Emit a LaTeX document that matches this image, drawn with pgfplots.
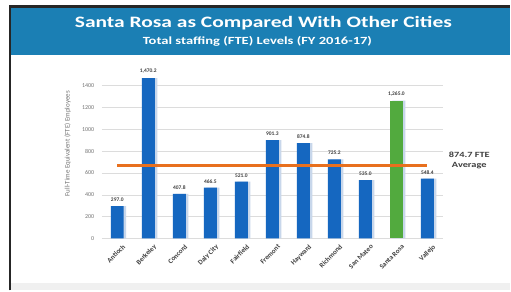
\documentclass[border=0pt]{standalone}
\usepackage{pgfplots}
\pgfplotsset{compat=1.18}
\usepackage{fontspec}
\setmainfont{Carlito}
\definecolor{band}{RGB}{27,127,180}
\definecolor{barblue}{RGB}{21,103,192}
\definecolor{bargreen}{RGB}{82,170,62}
\definecolor{avgorange}{RGB}{232,112,30}
\definecolor{shadowc}{RGB}{200,215,235}
\definecolor{txt}{RGB}{64,64,64}
\definecolor{gridc}{RGB}{220,220,220}
\begin{document}
\begin{tikzpicture}
\fill[white] (0bp,0bp) rectangle (511bp,291bp);
\fill[black!6] (11bp,0bp) rectangle (511bp,7bp);
\fill[band] (11bp,236bp) rectangle (511bp,283bp);
\draw[black!85, line width=2.5bp] (10.25bp,0bp) -- (10.25bp,284.25bp) -- (511bp,284.25bp);
\node[white, xscale=1.35, font=\bfseries\fontsize{16}{18}\selectfont] at (264bp,268bp) {Santa Rosa as Compared With Other Cities};
\node[white, xscale=1.33, font=\bfseries\fontsize{11}{12}\selectfont] at (258bp,250bp) {Total staffing (FTE) Levels (FY 2016-17)};
\begin{axis}[at={(102bp,52bp)}, anchor=south west, scale only axis,
  width=342bp, height=169.4bp,
  xmin=-0.5, xmax=10.5, ymin=0, ymax=1550,
  axis line style={draw=none}, major tick length=0pt,
  ytick={0,200,...,1400}, ymajorgrids, grid style={gridc, line width=0.6bp},
  xtick={0,...,10},
  xticklabels={Antioch,Berkeley,Concord,Daly City,Fairfield,Fremont,Hayward,Richmond,San Mateo,Santa Rosa,Vallejo},
  xticklabel style={rotate=45, anchor=north east, font=\bfseries\fontsize{7}{8}\selectfont, text=txt, xshift=3bp, yshift=-4bp},
  yticklabel style={font=\fontsize{6}{7}\selectfont, text=black!55, xshift=-4bp, /pgf/number format/1000 sep={}},
  /pgf/number format/assume math mode=true,
  ylabel={Full-Time Equivalent (FTE) Employees},
  every axis y label/.style={at={(axis description cs:-0.1,0.56)}, rotate=90, anchor=center, font=\fontsize{7}{8}\selectfont, text=black!55},
  clip=false,
]
\addplot[ybar, bar width=13bp, bar shift=2.5bp, fill=shadowc, draw=none] coordinates {
(0,297.0) (1,1470.2) (2,407.8) (3,466.5) (4,521.0) (5,901.3) (6,874.8) (7,725.2) (8,535.0) (9,1265.0) (10,548.4)};
\addplot[ybar, bar width=13bp, bar shift=0pt, fill=barblue, draw=none,
  nodes near coords={\pgfmathprintnumber[fixed,fixed zerofill,precision=1,1000 sep={,}]{\pgfplotspointmeta}},
  every node near coord/.append style={font=\bfseries\fontsize{5.5}{6}\selectfont, text=txt, yshift=1bp}] coordinates {
(0,297.0) (1,1470.2) (2,407.8) (3,466.5) (4,521.0) (5,901.3) (6,874.8) (7,725.2) (8,535.0) (10,548.4)};
\addplot[ybar, bar width=13bp, bar shift=0pt, fill=bargreen, draw=none,
  nodes near coords={\pgfmathprintnumber[fixed,fixed zerofill,precision=1,1000 sep={,}]{\pgfplotspointmeta}},
  every node near coord/.append style={font=\bfseries\fontsize{5.5}{6}\selectfont, text=txt, yshift=1bp}] coordinates {
(9,1265.0)};
\addplot[avgorange, line width=2.5bp] coordinates {(0,668) (10,668)};
\node[anchor=west, align=center, xscale=1.3, font=\bfseries\fontsize{8}{9.5}\selectfont, text=txt, yshift=5bp, xshift=1bp] at (axis cs:10.5,668) {874.7 FTE\\Average};
\end{axis}
\end{tikzpicture}
\end{document}
